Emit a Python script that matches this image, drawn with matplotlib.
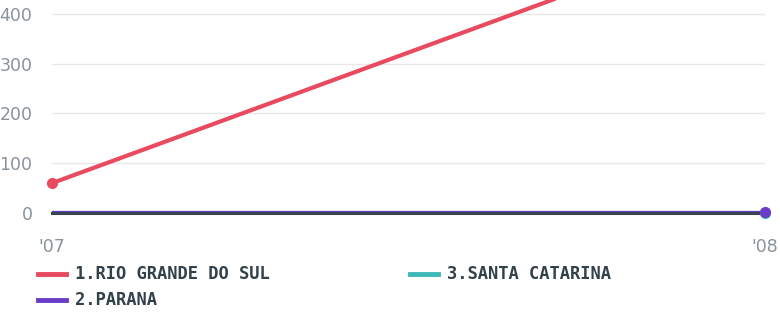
import matplotlib
matplotlib.use("Agg")
import matplotlib.pyplot as plt
from matplotlib.lines import Line2D

years = [2007, 2008]
xlabels = ["'07", "'08"]
series_names = ["1.RIO GRANDE DO SUL", "2.PARANA", "3.SANTA CATARINA"]
rio = [60, 585]
parana = [0, 0]
santa = [0, 0]
yticks = [0, 100, 200, 300, 400]

colors = {"1.RIO GRANDE DO SUL": "#e84a5f", "2.PARANA": "#6a3dc8", "3.SANTA CATARINA": "#3db8b8"}

fig = plt.figure(figsize=(7.8, 3.17), dpi=100)
ax = fig.add_axes([52/780, (317-213)/317, (765-52)/780, 213/317])
ax.set_xlim(years[0], years[-1])
ax.set_ylim(0, 428)

for y in yticks[1:]:
    ax.axhline(y, color="#e8e8e8", lw=1, zorder=0)

ax.plot(years, santa, color=colors["3.SANTA CATARINA"], lw=3, zorder=2)
ax.plot(years, parana, color=colors["2.PARANA"], lw=3, zorder=2)
ax.axhline(0, color="#3a464f", lw=2.2, zorder=3, clip_on=False)
ax.plot(years, rio, color=colors["1.RIO GRANDE DO SUL"], lw=3, zorder=4, solid_capstyle="round")
ax.plot(years[:1], rio[:1], "o", color=colors["1.RIO GRANDE DO SUL"], ms=7, zorder=5, clip_on=False)
ax.plot(years[-1:], santa[-1:], "o", color=colors["3.SANTA CATARINA"], ms=7, zorder=5, clip_on=False)
ax.plot(years[-1:], [parana[-1] + 1.5], "o", color=colors["2.PARANA"], ms=7, zorder=6, clip_on=False)

for s in ax.spines.values():
    s.set_visible(False)
ax.set_yticks(yticks)
ax.set_yticklabels([str(v) for v in yticks])
ax.set_xticks(years)
ax.set_xticklabels(xlabels)
ax.tick_params(length=0, colors="#8a9399", labelsize=12.5)
ax.tick_params(axis="y", pad=14)
ax.tick_params(axis="x", pad=18)

# legend
pos = {"1.RIO GRANDE DO SUL": (38, 274), "2.PARANA": (38, 300), "3.SANTA CATARINA": (410, 274)}
for name in series_names:
    x0, y0 = pos[name]
    fy = 1 - y0/317
    fig.add_artist(Line2D([x0/780, (x0+28)/780], [fy, fy], color=colors[name], lw=3.5))
    fig.text((x0+37)/780, fy, name, fontsize=12.3, fontweight="bold", color="#33414a",
             family=["DejaVu Sans Mono"], va="center", ha="left")

fig.savefig("out.png", dpi=100)
